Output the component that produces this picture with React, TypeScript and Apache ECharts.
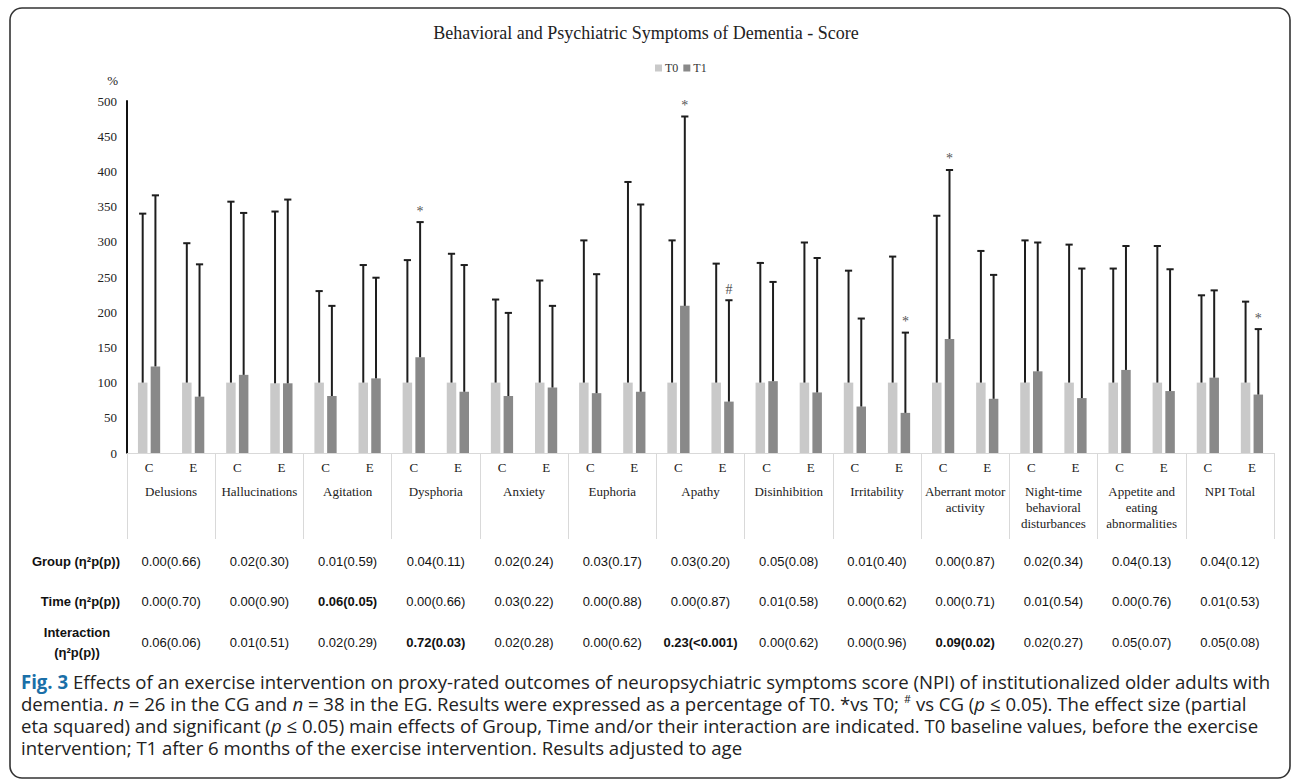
import React, { useEffect, useRef } from "react";
import * as echarts from "echarts";

// ---------- data ----------
const groups = [
  "Delusions",
  "Hallucinations",
  "Agitation",
  "Dysphoria",
  "Anxiety",
  "Euphoria",
  "Apathy",
  "Disinhibition",
  "Irritability",
  "Aberrant motor\nactivity",
  "Night-time\nbehavioral\ndisturbances",
  "Appetite and\neating\nabnormalities",
  "NPI Total",
];
const subGroups = ["C", "E"];
const seriesNames = ["T0", "T1"];

// per sub-category (C, E for each group), % of T0
const t0Mean = [100, 100, 100, 99, 100, 100, 100, 100, 100, 100, 100, 100, 100, 100, 100, 100, 100, 100, 100, 100, 100, 100, 100, 100, 100, 100];
const t0Upper = [340, 298, 357, 343, 230, 267, 274, 283, 218, 245, 302, 385, 302, 269, 270, 299, 259, 279, 337, 287, 302, 296, 262, 294, 224, 215];
const t1Mean = [123, 80, 111, 99, 81, 106, 136, 87, 81, 93, 85, 87, 209, 73, 102, 86, 66, 57, 162, 77, 116, 78, 118, 88, 107, 83];
const t1Upper = [366, 268, 341, 360, 209, 249, 328, 267, 199, 209, 254, 353, 478, 217, 243, 277, 191, 171, 402, 253, 299, 262, 294, 261, 231, 176];
const t1Marks = ["", "", "", "", "", "", "*", "", "", "", "", "", "*", "#", "", "", "", "*", "*", "", "", "", "", "", "", "*"];

const yTicks = { min: 0, max: 500, interval: 50 };

const rowLabels = ["Group (η²p(p))", "Time (η²p(p))", "Interaction\n(η²p(p))"];
const groupEffect = ["0.00(0.66)", "0.02(0.30)", "0.01(0.59)", "0.04(0.11)", "0.02(0.24)", "0.03(0.17)", "0.03(0.20)", "0.05(0.08)", "0.01(0.40)", "0.00(0.87)", "0.02(0.34)", "0.04(0.13)", "0.04(0.12)"];
const timeEffect = ["0.00(0.70)", "0.00(0.90)", "0.06(0.05)", "0.00(0.66)", "0.03(0.22)", "0.00(0.88)", "0.00(0.87)", "0.01(0.58)", "0.00(0.62)", "0.00(0.71)", "0.01(0.54)", "0.00(0.76)", "0.01(0.53)"];
const interactionEffect = ["0.06(0.06)", "0.01(0.51)", "0.02(0.29)", "0.72(0.03)", "0.02(0.28)", "0.00(0.62)", "0.23(<0.001)", "0.00(0.62)", "0.00(0.96)", "0.09(0.02)", "0.02(0.27)", "0.05(0.07)", "0.05(0.08)"];
const groupBold = [false, false, false, false, false, false, false, false, false, false, false, false, false];
const timeBold = [false, false, true, false, false, false, false, false, false, false, false, false, false];
const interactionBold = [false, false, false, true, false, false, true, false, false, true, false, false, false];

const titleText = "Behavioral and Psychiatric Symptoms of Dementia - Score";

const captionBold = "Fig. 3";
const captionLine1 = " Effects of an exercise intervention on proxy-rated outcomes of neuropsychiatric symptoms score (NPI) of institutionalized older adults with";
const captionText =
  "{b|" + captionBold + "}" + captionLine1 + "\n" +
  "dementia. {i|n} = 26 in the CG and {i|n} = 38 in the EG. Results were expressed as a percentage of T0. *vs T0; {sup|#} vs CG ({i|p} ≤ 0.05). The effect size (partial\n" +
  "eta squared) and significant ({i|p} ≤ 0.05) main effects of Group, Time and/or their interaction are indicated. T0 baseline values, before the exercise\n" +
  "intervention; T1 after 6 months of the exercise intervention. Results adjusted to age";

// ---------- styles ----------
const SERIF = "'Liberation Serif', 'Times New Roman', serif";
const SANS = "'Liberation Sans', Arial, sans-serif";
const CAPTION_FONT = "'Open Sans', 'Noto Sans', sans-serif";
const T0_COLOR = "#c9c9c9";
const T1_COLOR = "#898989";
const ERR_COLOR = "#1e1e1e";
const BAR_W = 9.5;
const BAR_GAP = 0.34;

const subCategories: string[] = [];
groups.forEach(() => subGroups.forEach((s) => subCategories.push(s)));

function errorSeries(means: number[], uppers: number[], side: number, marks?: string[]) {
  const offset = (side * BAR_W * (1 + BAR_GAP)) / 2;
  return {
    type: "custom",
    xAxisIndex: 0,
    yAxisIndex: 0,
    silent: true,
    z: 5,
    data: means.map((m, i) => [i, m, uppers[i]]),
    encode: { x: 0, y: [1, 2] },
    renderItem: (params: any, api: any) => {
      const i = api.value(0);
      const base = api.coord([i, api.value(1)]);
      const top = api.coord([i, api.value(2)]);
      const x = base[0] + offset;
      const children: any[] = [
        { type: "line", shape: { x1: x, y1: base[1], x2: x, y2: top[1] }, style: { stroke: ERR_COLOR, lineWidth: 2 } },
        { type: "line", shape: { x1: x - 3.6, y1: top[1], x2: x + 3.6, y2: top[1] }, style: { stroke: ERR_COLOR, lineWidth: 2 } },
      ];
      if (marks && marks[i]) {
        children.push({
          type: "text",
          style: {
            text: marks[i],
            x,
            y: top[1] - 4,
            align: "center",
            verticalAlign: "bottom",
            fontFamily: SERIF,
            fontSize: 14,
            fill: "#555",
          },
        });
      }
      return { type: "group", children };
    },
  };
}

function tableSeries() {
  const rows = [
    { vals: groupEffect, bold: groupBold, dy: 108 },
    { vals: timeEffect, bold: timeBold, dy: 148 },
    { vals: interactionEffect, bold: interactionBold, dy: 189 },
  ];
  return {
    type: "custom",
    xAxisIndex: 1,
    yAxisIndex: 0,
    silent: true,
    data: groups.map((_, i) => [i, 0]),
    encode: { x: 0, y: 1 },
    renderItem: (params: any, api: any) => {
      const i = api.value(0);
      const p = api.coord([i, 0]);
      return {
        type: "group",
        children: rows.map((r) => ({
          type: "text",
          style: {
            text: r.vals[i],
            x: p[0],
            y: p[1] + r.dy,
            align: "center",
            verticalAlign: "middle",
            fontFamily: SANS,
            fontSize: 13,
            fontWeight: r.bold[i] ? "bold" : "normal",
            fill: "#111",
          },
        })),
      };
    },
  };
}

export default function App() {
  const ref = useRef<HTMLDivElement>(null);
  useEffect(() => {
    if (!ref.current) return;
    const chart = echarts.init(ref.current, undefined, { renderer: "svg" });
    const capFont = 19;
    // condensed look: measure line 1 and squeeze it to the reference width
    let capScale = 0.85;
    try {
      const ctx = document.createElement("canvas").getContext("2d");
      if (ctx) {
        ctx.font = `bold ${capFont}px ${CAPTION_FONT}`;
        const wb = ctx.measureText(captionBold).width;
        ctx.font = `${capFont}px ${CAPTION_FONT}`;
        const wr = ctx.measureText(captionLine1).width;
        if (wb + wr > 0) capScale = 1250 / (wb + wr);
      }
    } catch (e) {
      /* keep default */
    }
    chart.setOption({
      animation: false,
      backgroundColor: "#ffffff",
      title: {
        text: titleText,
        left: "center",
        top: 24,
        padding: 0,
        textStyle: { fontFamily: SERIF, fontSize: 18, fontWeight: "normal", color: "#222" },
      },
      legend: {
        data: seriesNames,
        left: 655,
        top: 62,
        padding: 0,
        icon: "rect",
        itemWidth: 7,
        itemHeight: 7,
        itemGap: 5,
        textStyle: { fontFamily: SERIF, fontSize: 12, color: "#333", padding: [0, 0, 0, -2] },
      },
      grid: { left: 127, right: 18, top: 101, bottom: 329, containLabel: false },
      xAxis: [
        {
          type: "category",
          data: subCategories,
          axisLine: { show: true, lineStyle: { color: "#d9d9d9", width: 1 } },
          axisTick: { show: false },
          axisLabel: { interval: 0, fontFamily: SERIF, fontSize: 13, color: "#222", margin: 8 },
        },
        {
          type: "category",
          data: groups,
          position: "bottom",
          axisLine: { show: false },
          axisTick: { show: true, length: 86, lineStyle: { color: "#d9d9d9", width: 1 } },
          axisLabel: { interval: 0, fontFamily: SERIF, fontSize: 13, color: "#222", margin: 30, lineHeight: 16 },
        },
      ],
      yAxis: {
        type: "value",
        min: yTicks.min,
        max: yTicks.max,
        interval: yTicks.interval,
        name: "%",
        nameLocation: "end",
        nameGap: 14,
        nameTextStyle: { fontFamily: SERIF, fontSize: 13, color: "#222", align: "right", padding: [0, 9, 0, 0] },
        axisLine: { show: true, lineStyle: { color: "#111", width: 2 } },
        axisTick: { show: false },
        splitLine: { show: false },
        axisLabel: { fontFamily: SERIF, fontSize: 13, color: "#222", margin: 10 },
      },
      series: [
        { name: seriesNames[0], type: "bar", data: t0Mean, barWidth: BAR_W, barGap: BAR_GAP * 100 + "%", itemStyle: { color: T0_COLOR }, silent: true },
        { name: seriesNames[1], type: "bar", data: t1Mean, barWidth: BAR_W, barGap: BAR_GAP * 100 + "%", itemStyle: { color: T1_COLOR }, silent: true },
        errorSeries(t0Mean, t0Upper, -1),
        errorSeries(t1Mean, t1Upper, 1, t1Marks),
        tableSeries(),
      ],
      graphic: [
        {
          type: "rect",
          shape: { x: 10, y: 8, width: 1280, height: 770, r: 12 },
          style: { fill: "none", stroke: "#333", lineWidth: 1.6 },
          silent: true,
        },
        {
          type: "text",
          style: { text: rowLabels[0], x: 120, y: 561, align: "right", verticalAlign: "middle", fontFamily: SANS, fontSize: 13, fontWeight: "bold", fill: "#111" },
        },
        {
          type: "text",
          style: { text: rowLabels[1], x: 120, y: 601, align: "right", verticalAlign: "middle", fontFamily: SANS, fontSize: 13, fontWeight: "bold", fill: "#111" },
        },
        {
          type: "text",
          style: { text: rowLabels[2], x: 77, y: 642, align: "center", verticalAlign: "middle", lineHeight: 20, fontFamily: SANS, fontSize: 13, fontWeight: "bold", fill: "#111" },
        },
        {
          type: "text",
          x: 21,
          y: 671,
          scaleX: capScale,
          style: {
            text: captionText,
            x: 0,
            y: 0,
            align: "left",
            verticalAlign: "top",
            fontFamily: CAPTION_FONT,
            fontSize: capFont,
            lineHeight: 22,
            fill: "#222",
            rich: {
              b: { fontFamily: CAPTION_FONT, fontSize: capFont, fontWeight: "bold", fill: "#1a6fa8", lineHeight: 22 },
              i: { fontFamily: CAPTION_FONT, fontSize: capFont, fontStyle: "italic", fill: "#222", lineHeight: 22 },
              sup: { fontFamily: CAPTION_FONT, fontSize: 11, fill: "#222", verticalAlign: "top", lineHeight: 22, padding: [0, 0, 8, 0] },
            },
          },
        },
      ],
    });
    return () => chart.dispose();
  }, []);
  return <div ref={ref} style={{ position: "absolute", left: 0, top: 0, width: 1292, height: 782 }} />;
}
